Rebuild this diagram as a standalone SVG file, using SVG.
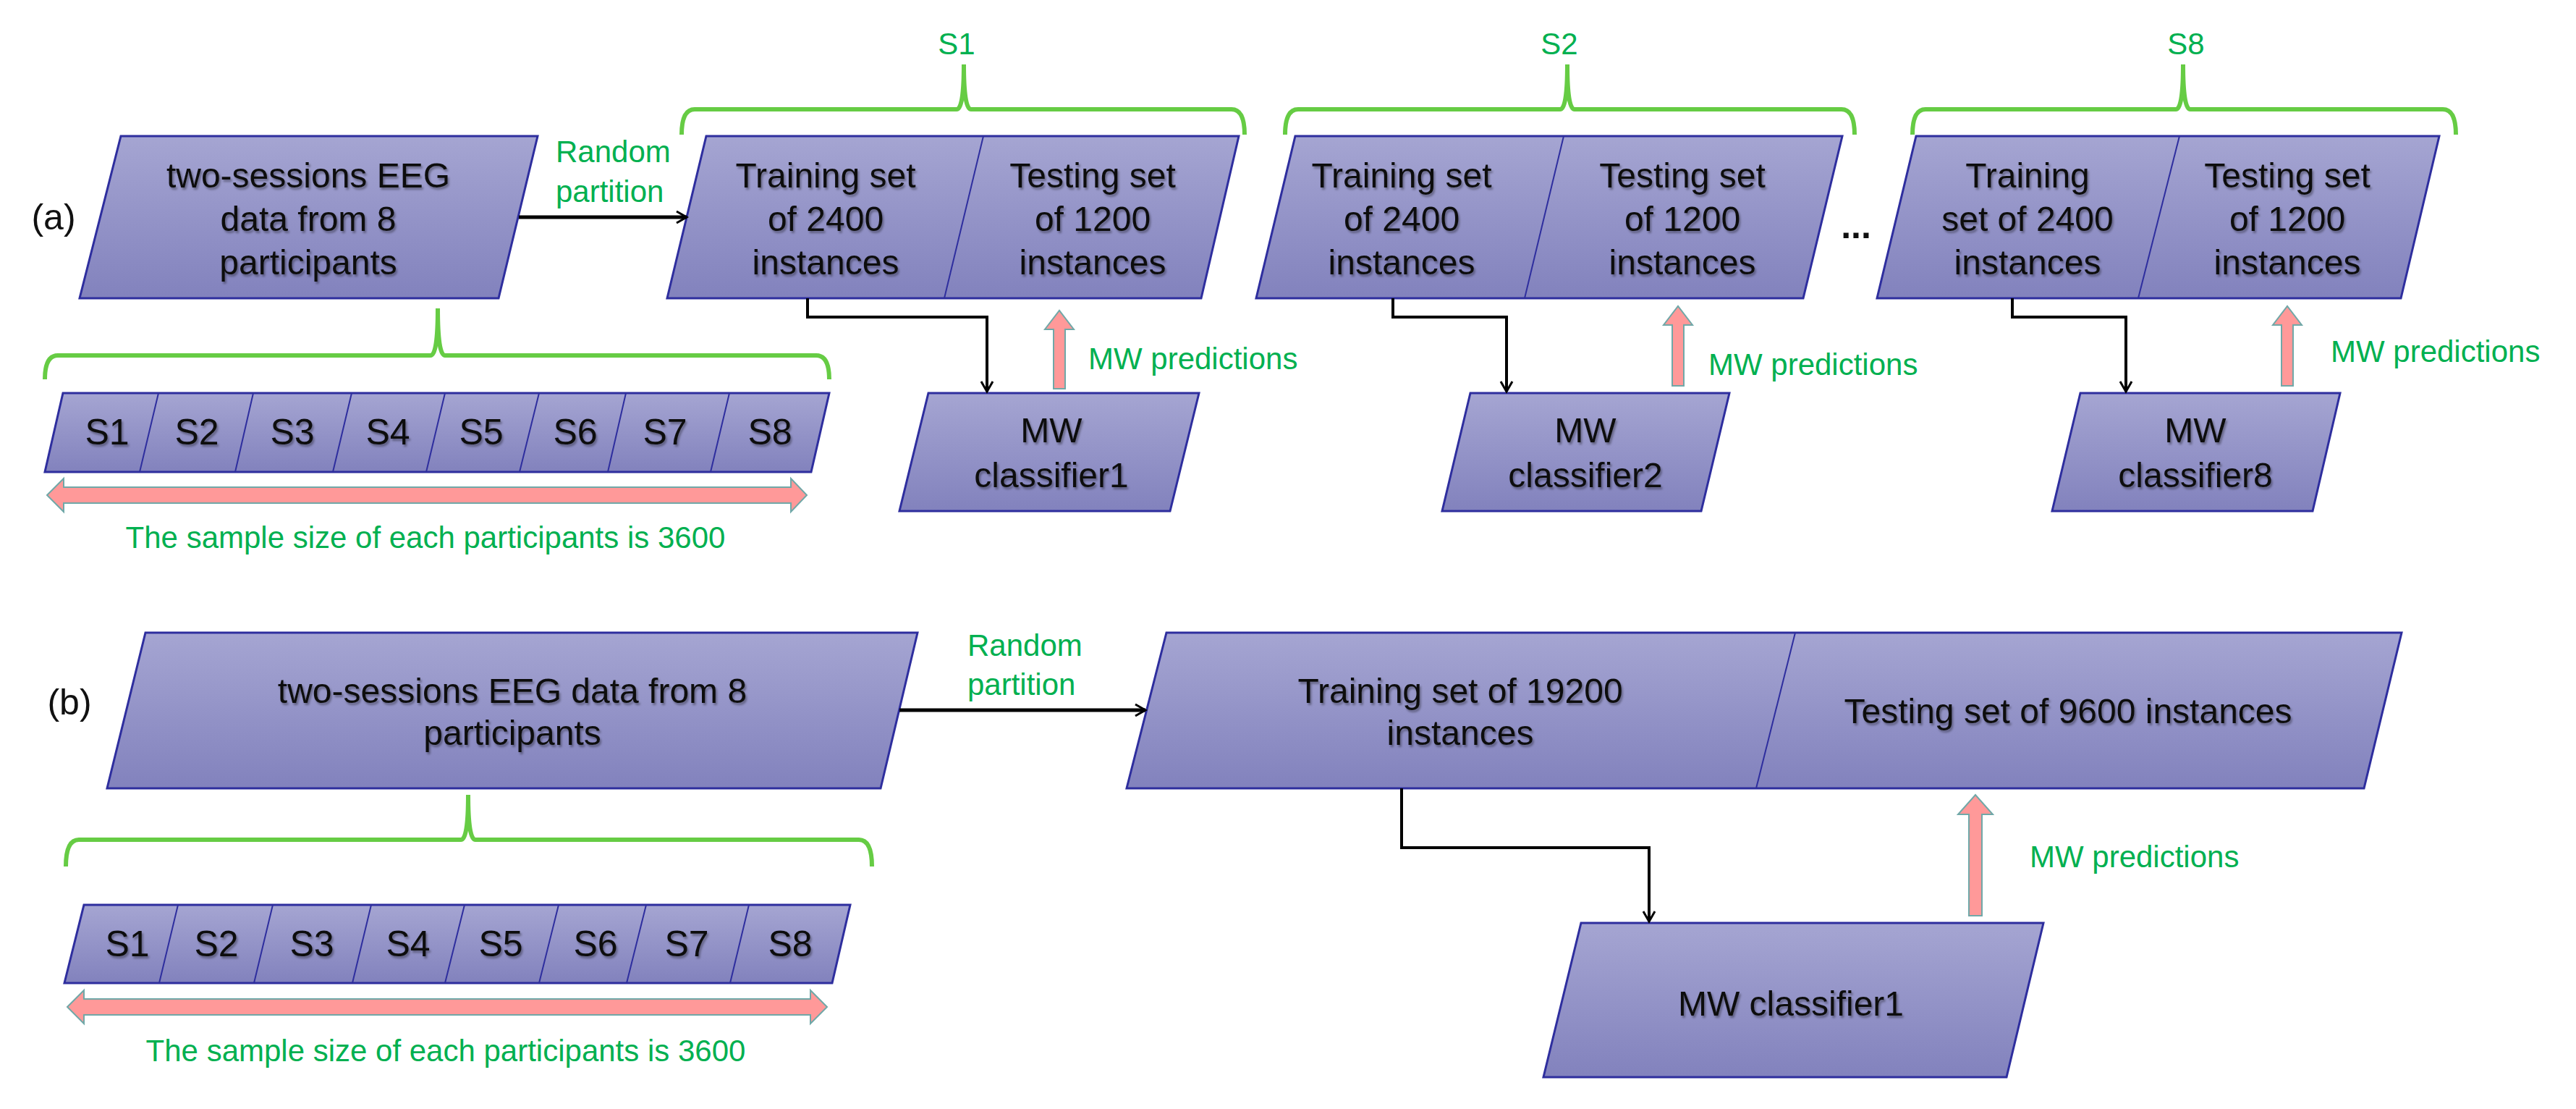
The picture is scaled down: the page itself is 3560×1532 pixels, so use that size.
<svg xmlns="http://www.w3.org/2000/svg" width="3560" height="1532" viewBox="0 0 3560 1532">
<defs>
<linearGradient id="g" x1="0" y1="0" x2="0" y2="1"><stop offset="0" stop-color="#a5a5d2"/><stop offset="1" stop-color="#8282bd"/></linearGradient>
<marker id="ah" markerWidth="20" markerHeight="20" refX="16" refY="10" orient="auto" markerUnits="userSpaceOnUse"><path d="M2,2 L16,10 L2,18" fill="none" stroke="#000" stroke-width="3"/></marker>
<filter id="sh" x="-5%" y="-5%" width="110%" height="120%"><feDropShadow dx="2" dy="3" stdDeviation="1.5" flood-color="#000" flood-opacity="0.35"/></filter>
</defs>
<style>
.box{fill:url(#g);stroke:#2e2e9e;stroke-width:3}
.div{stroke:#2e2e9e;stroke-width:2;fill:none}
.t{font-family:"Liberation Sans",Arial,sans-serif;font-size:48px;fill:#111;text-anchor:middle;dominant-baseline:central;filter:url(#sh)}
.s{font-size:50px}
.g{font-family:"Liberation Sans",Arial,sans-serif;font-size:42px;fill:#00b050;dominant-baseline:central}
.br{fill:none;stroke:#66cc44;stroke-width:6}
.c{fill:none;stroke:#000;stroke-width:5}
.pk{fill:#ff9999;stroke:#70a8a8;stroke-width:2}
.lab{font-family:"Liberation Sans",Arial,sans-serif;font-size:50px;fill:#111;text-anchor:middle;dominant-baseline:central}
</style>
<text class="lab" x="74" y="300">(a)</text>
<text class="lab" x="96" y="970">(b)</text>

<g id="a_data">
<polygon class="box" points="167,188 743,188 689,412 110,412"/>
<text class="t" x="426" y="242">two-sessions EEG</text>
<text class="t" x="426" y="302">data from 8</text>
<text class="t" x="426" y="362">participants</text>
</g>
<g id="a_sessions">
<polygon class="box" points="87,543 1146,543 1121,652 62,652"/>
<path class="div" d="M219,543 L193,652 M350,543 L325,652 M486,543 L460,652 M615,543 L589,652 M745,543 L718,652 M865,543 L840,652 M1008,543 L982,652"/>
<text class="t s" x="148" y="597">S1</text><text class="t s" x="272" y="597">S2</text><text class="t s" x="404" y="597">S3</text><text class="t s" x="536" y="597">S4</text><text class="t s" x="665" y="597">S5</text><text class="t s" x="795" y="597">S6</text><text class="t s" x="919" y="597">S7</text><text class="t s" x="1064" y="597">S8</text>
</g>
<g id="a_set1">
<polygon class="box" points="976,188 1712,188 1660,412 922,412"/>
<path class="div" d="M1359,188 L1305,412"/>
<text class="t" x="1141" y="242">Training set</text><text class="t" x="1141" y="302">of 2400</text><text class="t" x="1141" y="362">instances</text>
<text class="t" x="1510" y="242">Testing set</text><text class="t" x="1510" y="302">of 1200</text><text class="t" x="1510" y="362">instances</text>
</g>
<g id="a_set2">
<polygon class="box" points="1790,188 2546,188 2492,412 1736,412"/>
<path class="div" d="M2161,188 L2107,412"/>
<text class="t" x="1937" y="242">Training set</text><text class="t" x="1937" y="302">of 2400</text><text class="t" x="1937" y="362">instances</text>
<text class="t" x="2325" y="242">Testing set</text><text class="t" x="2325" y="302">of 1200</text><text class="t" x="2325" y="362">instances</text>
</g>
<g id="a_set8">
<polygon class="box" points="2648,188 3371,188 3318,412 2594,412"/>
<path class="div" d="M3012,188 L2955,412"/>
<text class="t" x="2802" y="242">Training</text><text class="t" x="2802" y="302">set of 2400</text><text class="t" x="2802" y="362">instances</text>
<text class="t" x="3161" y="242">Testing set</text><text class="t" x="3161" y="302">of 1200</text><text class="t" x="3161" y="362">instances</text>
</g>
<text class="lab" x="2565" y="312" style="font-weight:bold">...</text>
<g id="a_clf1">
<polygon class="box" points="1283,543 1657,543 1617,706 1243,706"/>
<text class="t" x="1453" y="594">MW</text><text class="t" x="1453" y="656">classifier1</text>
</g>
<g id="a_clf2">
<polygon class="box" points="2032,543 2390,543 2351,706 1993,706"/>
<text class="t" x="2191" y="594">MW</text><text class="t" x="2191" y="656">classifier2</text>
</g>
<g id="a_clf8">
<polygon class="box" points="2875,543 3234,543 3196,706 2836,706"/>
<text class="t" x="3034" y="594">MW</text><text class="t" x="3034" y="656">classifier8</text>
</g>

<g id="b_data">
<polygon class="box" points="201,874 1268,874 1217,1089 148,1089"/>
<text class="t" x="708" y="954">two-sessions EEG data from 8</text>
<text class="t" x="708" y="1012">participants</text>
</g>
<g id="b_sessions">
<polygon class="box" points="116,1250 1175,1250 1150,1358 89,1358"/>
<path class="div" d="M246,1250 L220,1358 M377,1250 L351,1358 M513,1250 L487,1358 M642,1250 L615,1358 M772,1250 L745,1358 M893,1250 L866,1358 M1035,1250 L1009,1358"/>
<text class="t s" x="176" y="1304">S1</text><text class="t s" x="299" y="1304">S2</text><text class="t s" x="431" y="1304">S3</text><text class="t s" x="564" y="1304">S4</text><text class="t s" x="692" y="1304">S5</text><text class="t s" x="823" y="1304">S6</text><text class="t s" x="949" y="1304">S7</text><text class="t s" x="1092" y="1304">S8</text>
</g>
<g id="b_set">
<polygon class="box" points="1612,874 3319,874 3267,1089 1557,1089"/>
<path class="div" d="M2481,874 L2427,1089"/>
<text class="t" x="2018" y="954">Training  set of 19200</text><text class="t" x="2018" y="1012">instances</text>
<text class="t" x="2858" y="982">Testing  set of 9600 instances</text>
</g>
<g id="b_clf">
<polygon class="box" points="2185,1275 2824,1275 2773,1488 2133,1488"/>
<text class="t" x="2475" y="1386">MW classifier1</text>
</g>

<g id="connectors">
<path class="c" d="M717,300 L949,300" marker-end="url(#ah)"/>
<path class="c" d="M1116,412 L1116,438 L1364,438 L1364,541" marker-end="url(#ah)" style="stroke-width:4"/>
<path class="c" d="M1925,412 L1925,438 L2082,438 L2082,541" marker-end="url(#ah)" style="stroke-width:4"/>
<path class="c" d="M2781,412 L2781,438 L2938,438 L2938,541" marker-end="url(#ah)" style="stroke-width:4"/>
<path class="c" d="M1243,981 L1583,981" marker-end="url(#ah)"/>
<path class="c" d="M1937,1089 L1937,1171 L2279,1171 L2279,1273" marker-end="url(#ah)" style="stroke-width:4"/>
<polygon class="pk" points="1456,537 1456,455 1444,455 1464,429 1484,455 1472,455 1472,537"/>
<polygon class="pk" points="2311,533 2311,449 2299,449 2319,423 2339,449 2327,449 2327,533"/>
<polygon class="pk" points="3153,533 3153,449 3141,449 3161,423 3181,449 3169,449 3169,533"/>
<polygon class="pk" points="2721,1265 2721,1125 2706,1125 2730,1098 2754,1125 2739,1125 2739,1265"/>
<polygon class="pk" points="65,684 88,661 88,673 1093,673 1093,661 1115,684 1093,707 1093,695 88,695 88,707"/>
<polygon class="pk" points="93,1391 116,1368 116,1380 1120,1380 1120,1368 1143,1391 1120,1414 1120,1402 116,1402 116,1414"/>
<path class="br" d="M942,186 Q942,151 960,151 L1322,151 Q1332,151 1332,89 Q1332,151 1342,151 L1702,151 Q1720,151 1720,186"/>
<path class="br" d="M1776,186 Q1776,151 1794,151 L2156,151 Q2166,151 2166,89 Q2166,151 2176,151 L2545,151 Q2563,151 2563,186"/>
<path class="br" d="M2643,186 Q2643,151 2661,151 L3007,151 Q3017,151 3017,89 Q3017,151 3027,151 L3376,151 Q3394,151 3394,186"/>
<path class="br" d="M62,524 Q62,491 80,491 L595,491 Q605,491 605,426 Q605,491 615,491 L1128,491 Q1146,491 1146,524"/>
<path class="br" d="M91,1197 Q91,1160 109,1160 L637,1160 Q647,1160 647,1098 Q647,1160 657,1160 L1187,1160 Q1205,1160 1205,1197"/>
</g>
<text class="g" x="1322" y="60" text-anchor="middle">S1</text>
<text class="g" x="2155" y="60" text-anchor="middle">S2</text>
<text class="g" x="3021" y="60" text-anchor="middle">S8</text>
<text class="g" x="768" y="209">Random</text>
<text class="g" x="768" y="264">partition</text>
<text class="g" x="1337" y="891">Random</text>
<text class="g" x="1337" y="945">partition</text>
<text class="g" x="1504" y="495">MW predictions</text>
<text class="g" x="2361" y="503">MW predictions</text>
<text class="g" x="3221" y="485">MW predictions</text>
<text class="g" x="2805" y="1183">MW predictions</text>
<text class="g" x="588" y="742" text-anchor="middle">The sample size of each participants is 3600</text>
<text class="g" x="616" y="1451" text-anchor="middle">The sample size of each participants is 3600</text>
</svg>
